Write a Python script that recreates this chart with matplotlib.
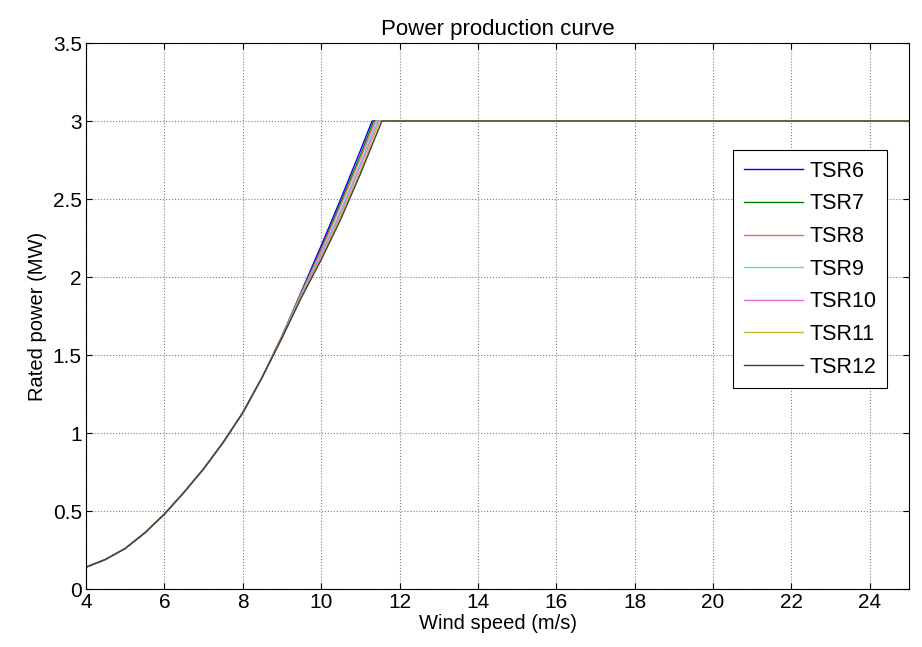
import matplotlib
matplotlib.use('Agg')
import matplotlib.pyplot as plt

plt.rcParams['font.family'] = ['Liberation Sans', 'DejaVu Sans']

# velocidades de viento (m/s) por debajo de la nominal
wind_speed = [4, 4.5, 5, 5.5, 6, 6.5, 7, 7.5, 8, 8.5, 9, 9.5, 10, 10.5, 11]
# velocidad a la que cada curva alcanza la potencia nominal
rated_speed = [11.30, 11.34, 11.38, 11.42, 11.46, 11.50, 11.55]
rated_power = 3.0
cut_out = 25

# potencia (MW) para cada TSR
tsr6 = [0.14, 0.19, 0.26, 0.36, 0.48, 0.62, 0.77, 0.94, 1.13, 1.36, 1.62, 1.91, 2.20, 2.50, 2.81]
tsr7 = [0.14, 0.19, 0.26, 0.36, 0.48, 0.62, 0.77, 0.94, 1.13, 1.36, 1.62, 1.90, 2.18, 2.48, 2.78]
tsr8 = [0.14, 0.19, 0.26, 0.36, 0.48, 0.62, 0.77, 0.94, 1.13, 1.36, 1.62, 1.90, 2.17, 2.46, 2.76]
tsr9 = [0.14, 0.19, 0.26, 0.36, 0.48, 0.62, 0.77, 0.94, 1.13, 1.36, 1.61, 1.89, 2.15, 2.43, 2.73]
tsr10 = [0.14, 0.19, 0.26, 0.36, 0.48, 0.62, 0.77, 0.94, 1.13, 1.36, 1.61, 1.88, 2.14, 2.41, 2.71]
tsr11 = [0.14, 0.19, 0.26, 0.36, 0.48, 0.62, 0.77, 0.94, 1.13, 1.36, 1.61, 1.88, 2.12, 2.39, 2.68]
tsr12 = [0.14, 0.19, 0.26, 0.36, 0.48, 0.62, 0.77, 0.94, 1.13, 1.36, 1.61, 1.87, 2.11, 2.37, 2.66]

series = [tsr6, tsr7, tsr8, tsr9, tsr10, tsr11, tsr12]
labels = ['TSR6', 'TSR7', 'TSR8', 'TSR9', 'TSR10', 'TSR11', 'TSR12']
colors = ['#0000ff', '#008000', '#f06868', '#60d8d8', '#e070e0', '#bcbc30', '#404040']

fig = plt.figure(figsize=(9.22, 6.47), dpi=100)
ax = fig.add_axes([0.0933, 0.0896, 0.8926, 0.8439])

for p, vr, lab, c in zip(series, rated_speed, labels, colors):
    x = wind_speed + [vr, cut_out]
    y = p + [rated_power, rated_power]
    ax.plot(x, y, color=c, linewidth=1.0, label=lab)

ax.set_xlim(4, 25)
ax.set_ylim(0, 3.5)
ax.set_xticks(range(4, 25, 2))
ax.set_yticks([0, 0.5, 1, 1.5, 2, 2.5, 3, 3.5])
ax.set_yticklabels(['0', '0.5', '1', '1.5', '2', '2.5', '3', '3.5'])
ax.grid(True, linestyle=':', color='#808080', linewidth=0.8)
ax.tick_params(direction='in', top=True, right=True, labelsize=15, length=4, pad=3)
for s in ax.spines.values():
    s.set_linewidth(0.8)

ax.set_xlabel('Wind speed (m/s)', fontsize=14.5, labelpad=1)
ax.set_ylabel('Rated power (MW)', fontsize=14.5, labelpad=4)
ax.set_title('Power production curve', fontsize=16, pad=6)

leg = ax.legend(loc='upper left', bbox_to_anchor=(0.786, 0.804), fontsize=15.5,
                handlelength=2.75, handletextpad=0.3, labelspacing=0.54,
                fancybox=False, edgecolor='black', framealpha=1,
                borderpad=0.5, borderaxespad=0)
leg.get_frame().set_linewidth(0.8)

fig.savefig('out.png', dpi=100)
